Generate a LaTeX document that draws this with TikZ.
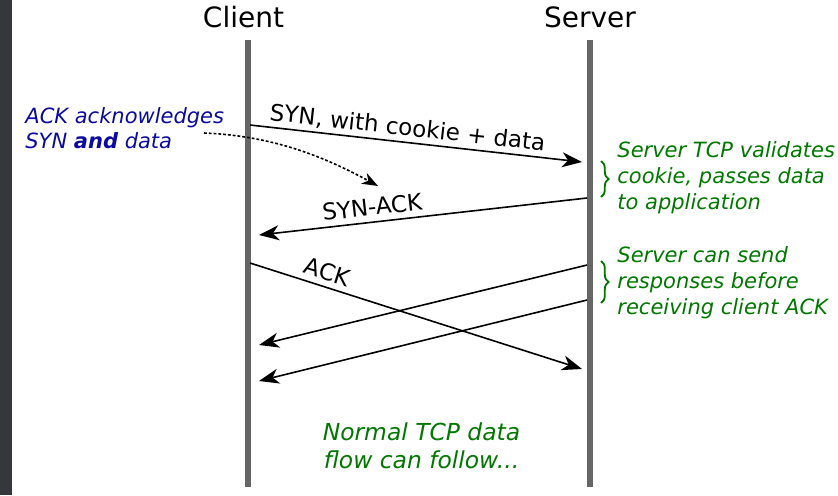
\documentclass[tikz,border=0pt]{standalone}
\usepackage{fontspec}
\setmainfont{DejaVu Sans}
\usetikzlibrary{arrows.meta}
\usetikzlibrary{decorations.pathreplacing}
\definecolor{stripgray}{RGB}{52,56,60}
\definecolor{lifegray}{RGB}{102,102,102}
\definecolor{notegreen}{RGB}{0,120,0}
\definecolor{noteblue}{RGB}{10,10,160}

\begin{document}
\begin{tikzpicture}[x=0.5pt,y=-0.5pt,
	lifeline/.style={line width=2.6pt,lifegray},
	msg/.style={-{Stealth[length=10pt,width=7.5pt,inset=3pt]},line width=0.8pt},
	msglabel/.style={sloped,above=3pt,inner sep=0pt,text depth=0pt,font=\fontsize{11.5}{13}\selectfont},
	greennote/.style={anchor=north west,inner sep=0pt,align=left,text=notegreen,font=\fontsize{10.5}{13.2}\selectfont\itshape},
	greenbrace/.style={notegreen,line width=0.9pt,decorate,decoration={brace,amplitude=3.8pt}}]
	\useasboundingbox (0,0) rectangle (838,495);
	\fill[stripgray] (0,0) rectangle (12,495);

	% hosts and lifelines
	\node[anchor=base,font=\fontsize{14}{16}\selectfont] (client) at (243.5,27) {Client};
	\node[anchor=base,font=\fontsize{14}{16}\selectfont] (server) at (590,27) {Server};
	\coordinate (clientTop) at (248,40);
	\coordinate (clientBot) at (248,487);
	\coordinate (serverTop) at (590,40);
	\coordinate (serverBot) at (590,487);
	\draw[lifeline] (clientTop) -- (clientBot);
	\draw[lifeline] (serverTop) -- (serverBot);

	% messages
	\coordinate (synOut) at (250,125);
	\coordinate (synIn) at (582,162);
	\coordinate (synackOut) at (587,198);
	\coordinate (synackIn) at (259,235);
	\coordinate (ackOut) at (250,263);
	\coordinate (ackIn) at (582,369);
	\coordinate (respOneOut) at (587,265);
	\coordinate (respOneIn) at (259,345);
	\coordinate (respTwoOut) at (587,300);
	\coordinate (respTwoIn) at (259,381);

	\draw[msg] (synOut) -- node[msglabel,pos=0.47] {SYN, with cookie + data} (synIn);
	\draw[msg] (synackOut) -- node[msglabel,pos=0.65] {SYN-ACK} (synackIn);
	\draw[msg] (ackOut) -- node[msglabel,pos=0.22] {ACK} (ackIn);
	\draw[msg] (respOneOut) -- (respOneIn);
	\draw[msg] (respTwoOut) -- (respTwoIn);

	% notes
	\node[anchor=north west,inner sep=0pt,align=left,text=noteblue,font=\fontsize{10.5}{12.8}\selectfont\itshape] (ackNote) at (25,107) {ACK acknowledges\\SYN \textbf{and} data};
	\coordinate (ackTail) at (204,133);
	\coordinate (ackHead) at (378,186);
	\draw[line width=0.8pt,dash pattern=on 1.4pt off 1pt,-{Stealth[length=8pt,width=6pt,inset=2.5pt]}] (ackTail) .. controls (279,136) and (332,161) .. (ackHead);

	\draw[greenbrace] (601,161) -- (601,197);
	\node[greennote] (validNote) at (617,140.7) {Server TCP validates\\cookie, passes data\\to application};
	\draw[greenbrace] (601,261) -- (601,303);
	\node[greennote] (earlyNote) at (617,245.7) {Server can send\\responses before\\receiving client ACK};

	\node[greennote,anchor=north,align=center,font=\fontsize{11.7}{14}\selectfont\itshape] (flowNote) at (421.5,422.5) {Normal TCP data\\flow can follow...};

\end{tikzpicture}
\end{document}
